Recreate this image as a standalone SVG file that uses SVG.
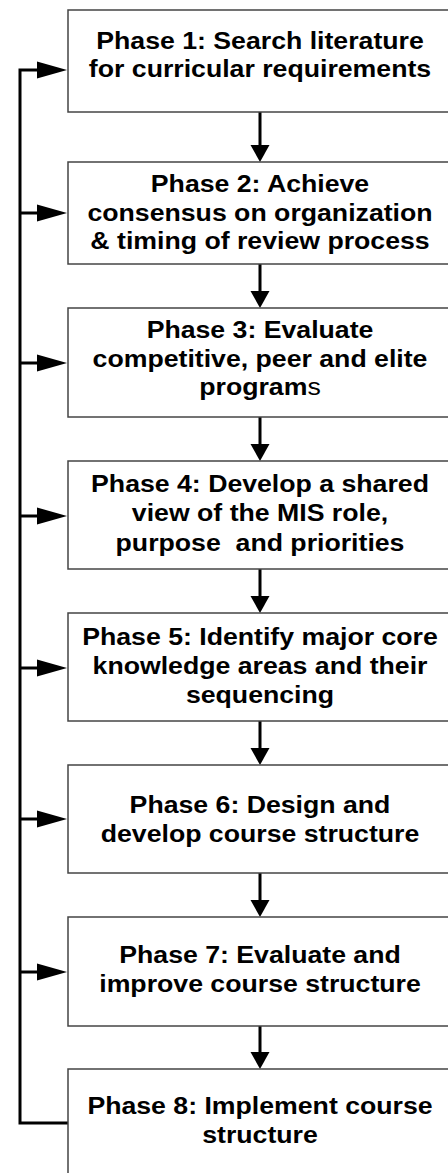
<svg xmlns="http://www.w3.org/2000/svg" width="448" height="1173" viewBox="0 0 448 1173">
<style>
.box{fill:#fff;stroke:#444;stroke-width:1.5}
.lbl{font-family:"Liberation Sans",Arial,sans-serif;font-weight:bold;font-size:23px;fill:#000;text-anchor:middle}
.ln{stroke:#000;stroke-width:3;fill:none}
.hd{fill:#000;stroke:none}
</style>
<rect width="448" height="1173" fill="#fff"/>
<g id="connectors">
<path class="ln" d="M68,1123 H20 V70 H40"/>
<path class="ln" d="M20,213 H40 M20,363 H40 M20,516 H40 M20,668 H40 M20,819 H40 M20,972 H40"/>
<polygon class="hd" points="67,70 37,61.5 37,78.5"/>
<polygon class="hd" points="67,213 37,204.5 37,221.5"/>
<polygon class="hd" points="67,363 37,354.5 37,371.5"/>
<polygon class="hd" points="67,516 37,507.5 37,524.5"/>
<polygon class="hd" points="67,668 37,659.5 37,676.5"/>
<polygon class="hd" points="67,819 37,810.5 37,827.5"/>
<polygon class="hd" points="67,972 37,963.5 37,980.5"/>
<path class="ln" d="M260,112 V148 M260,264 V294 M260,417 V447 M260,569 V599 M260,721 V751 M260,873 V903 M260,1026 V1055"/>
<polygon class="hd" points="260,162 250.5,145 269.5,145"/>
<polygon class="hd" points="260,308 250.5,291 269.5,291"/>
<polygon class="hd" points="260,461 250.5,444 269.5,444"/>
<polygon class="hd" points="260,613 250.5,596 269.5,596"/>
<polygon class="hd" points="260,765 250.5,748 269.5,748"/>
<polygon class="hd" points="260,917 250.5,900 269.5,900"/>
<polygon class="hd" points="260,1069 250.5,1052 269.5,1052"/>
</g>
<g id="phase1">
<rect class="box" x="68" y="10" width="400" height="102"/>
<text class="lbl" transform="translate(260 0) scale(1.16 1)"><tspan x="0" y="49">Phase 1: Search literature</tspan><tspan x="0" y="77">for curricular requirements</tspan></text>
</g>
<g id="phase2">
<rect class="box" x="68" y="162" width="400" height="102"/>
<text class="lbl" transform="translate(260 0) scale(1.16 1)"><tspan x="0" y="192">Phase 2: Achieve</tspan><tspan x="0" y="221">consensus on organization</tspan><tspan x="0" y="249">&amp; timing of review process</tspan></text>
</g>
<g id="phase3">
<rect class="box" x="68" y="308" width="400" height="109"/>
<text class="lbl" transform="translate(260 0) scale(1.16 1)"><tspan x="0" y="338">Phase 3: Evaluate</tspan><tspan x="0" y="367">competitive, peer and elite</tspan><tspan x="0" y="395">program<tspan font-weight="normal">s</tspan></tspan></text>
</g>
<g id="phase4">
<rect class="box" x="68" y="461" width="400" height="108"/>
<text class="lbl" transform="translate(260 0) scale(1.16 1)"><tspan x="0" y="492">Phase 4: Develop a shared</tspan><tspan x="0" y="521">view of the MIS role,</tspan><tspan x="0" y="551" xml:space="preserve">purpose  and priorities</tspan></text>
</g>
<g id="phase5">
<rect class="box" x="68" y="613" width="400" height="108"/>
<text class="lbl" transform="translate(260 0) scale(1.16 1)"><tspan x="0" y="645">Phase 5: Identify major core</tspan><tspan x="0" y="674">knowledge areas and their</tspan><tspan x="0" y="703">sequencing</tspan></text>
</g>
<g id="phase6">
<rect class="box" x="68" y="765" width="400" height="108"/>
<text class="lbl" transform="translate(260 0) scale(1.16 1)"><tspan x="0" y="813">Phase 6: Design and</tspan><tspan x="0" y="842">develop course structure</tspan></text>
</g>
<g id="phase7">
<rect class="box" x="68" y="917" width="400" height="109"/>
<text class="lbl" transform="translate(260 0) scale(1.16 1)"><tspan x="0" y="963">Phase 7: Evaluate and</tspan><tspan x="0" y="992">improve course structure</tspan></text>
</g>
<g id="phase8">
<rect class="box" x="68" y="1069" width="400" height="130"/>
<text class="lbl" transform="translate(260 0) scale(1.16 1)"><tspan x="0" y="1114">Phase 8: Implement course</tspan><tspan x="0" y="1143">structure</tspan></text>
</g>
</svg>
